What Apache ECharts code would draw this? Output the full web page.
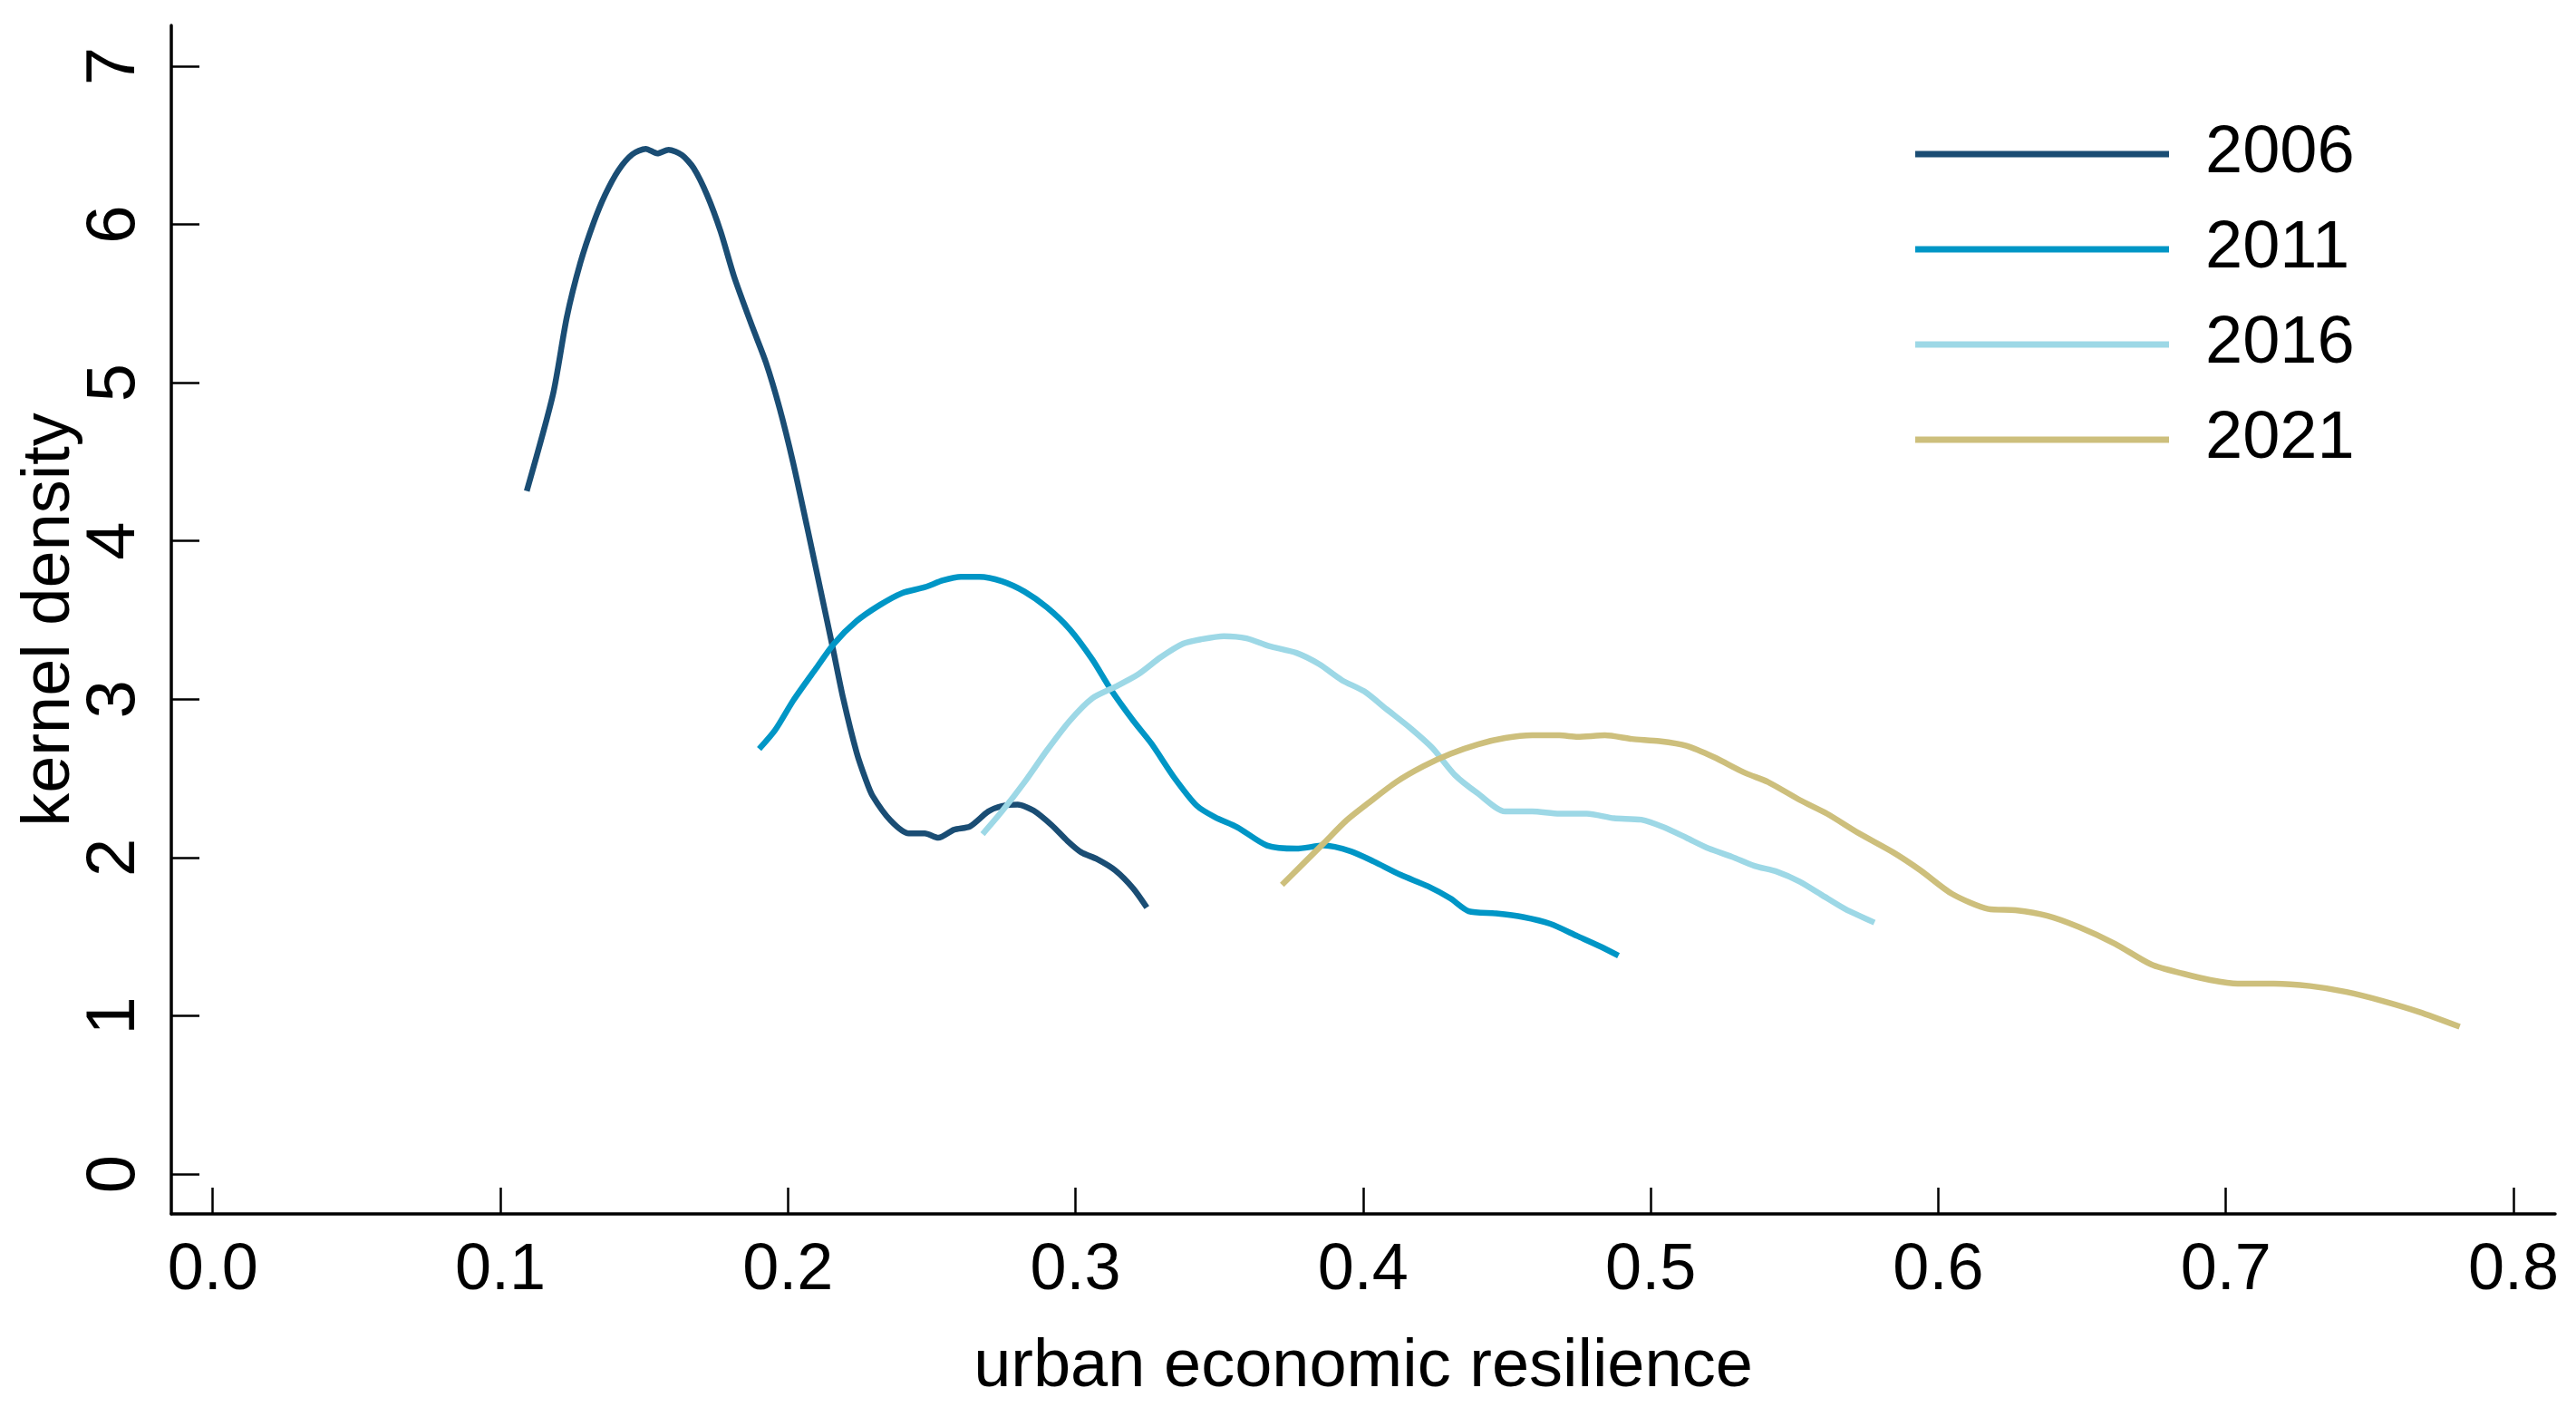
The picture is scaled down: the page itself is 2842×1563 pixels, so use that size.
<!DOCTYPE html>
<html>
<head>
<meta charset="utf-8">
<script src="https://cdn.jsdelivr.net/npm/echarts@6/dist/echarts.min.js"></script>
<style>
html,body{margin:0;padding:0;background:#fff;}
#chart{width:2842px;height:1563px;}
</style>
</head>
<body>
<div id="chart"></div>
<script>
// ---- data ----
const seriesNames = ['2006', '2011', '2016', '2021'];
const xTicks = [0, 0.1, 0.2, 0.3, 0.4, 0.5, 0.6, 0.7, 0.8];
const yTicks = [0, 1, 2, 3, 4, 5, 6, 7];

const x2006 = [0.1092,0.1183,0.1231,0.1278,0.1325,0.1364,0.1411,0.1459,0.1506,0.1546,0.1585,0.1632,0.1672,0.1719,0.1766,0.1813,0.1876,0.1924,0.1971,0.2018,0.2066,0.2113,0.2153,0.2192,0.2239,0.2271,0.2294,0.2357,0.2420,0.2476,0.2523,0.2578,0.2633,0.2697,0.2744,0.2799,0.2854,0.2917,0.2972,0.3020,0.3075,0.3138,0.3201,0.3248];
const y2006 = [4.316,4.925,5.412,5.756,6.014,6.186,6.343,6.443,6.478,6.449,6.472,6.438,6.357,6.186,5.956,5.670,5.355,5.126,4.840,4.496,4.095,3.694,3.351,3.007,2.663,2.491,2.391,2.234,2.153,2.153,2.125,2.176,2.196,2.291,2.325,2.334,2.297,2.205,2.105,2.033,1.990,1.919,1.804,1.684];

const x2011 = [0.1900,0.1956,0.2019,0.2097,0.2160,0.2239,0.2318,0.2397,0.2476,0.2539,0.2602,0.2665,0.2744,0.2823,0.2901,0.2980,0.3059,0.3122,0.3201,0.3264,0.3343,0.3422,0.3485,0.3563,0.3666,0.3768,0.3863,0.3958,0.4036,0.4131,0.4226,0.4304,0.4367,0.4462,0.4556,0.4651,0.4746,0.4825,0.4888];
const y2011 = [2.686,2.806,2.993,3.193,3.351,3.494,3.594,3.671,3.708,3.751,3.774,3.774,3.746,3.680,3.580,3.442,3.250,3.064,2.864,2.720,2.506,2.327,2.255,2.191,2.076,2.056,2.076,2.039,1.976,1.890,1.818,1.741,1.661,1.647,1.624,1.581,1.503,1.438,1.380];

const x2016 = [0.2677,0.2744,0.2823,0.2901,0.2980,0.3059,0.3138,0.3217,0.3296,0.3374,0.3437,0.3516,0.3595,0.3673,0.3768,0.3847,0.3926,0.4004,0.4083,0.4162,0.4241,0.4320,0.4399,0.4494,0.4588,0.4683,0.4778,0.4872,0.4967,0.5046,0.5124,0.5203,0.5282,0.5361,0.5440,0.5519,0.5597,0.5676,0.5778];
const y2016 = [2.148,2.291,2.477,2.678,2.864,3.007,3.078,3.156,3.265,3.351,3.379,3.399,3.385,3.336,3.293,3.222,3.121,3.050,2.935,2.821,2.692,2.520,2.405,2.291,2.291,2.277,2.277,2.248,2.239,2.191,2.125,2.056,2.005,1.947,1.910,1.847,1.761,1.675,1.589];

const x2021 = [0.3718,0.3784,0.3863,0.3942,0.4021,0.4115,0.4210,0.4304,0.4399,0.4494,0.4588,0.4683,0.4746,0.4841,0.4935,0.5030,0.5124,0.5219,0.5329,0.5408,0.5519,0.5613,0.5724,0.5843,0.5938,0.6048,0.6174,0.6269,0.6379,0.6489,0.6615,0.6742,0.6852,0.6946,0.7041,0.7167,0.7293,0.7419,0.7545,0.7671,0.7813];
const y2021 = [1.827,1.947,2.090,2.234,2.348,2.477,2.577,2.655,2.715,2.755,2.772,2.772,2.763,2.772,2.749,2.735,2.706,2.635,2.534,2.477,2.363,2.277,2.153,2.033,1.919,1.770,1.675,1.667,1.632,1.561,1.455,1.323,1.266,1.226,1.203,1.203,1.188,1.151,1.094,1.025,0.931];

const colors = ['#1a4d74', '#0096c6', '#9dd8e6', '#cdbf7c'];
const xs = [x2006, x2011, x2016, x2021];
const ys = [y2006, y2011, y2016, y2021];

const FONT = '"Liberation Sans", Arial, sans-serif';

const chart = echarts.init(document.getElementById('chart'), null, {renderer: 'canvas'});
const series = seriesNames.map((name, i) => ({
  name: name,
  type: 'line',
  data: xs[i].map((x, j) => [x, ys[i][j]]),
  showSymbol: false,
  smooth: 0.25,
  lineStyle: {color: colors[i], width: 6.5},
  itemStyle: {color: colors[i]},
  emphasis: {disabled: true},
  animation: false
}));

chart.setOption({
  animation: false,
  backgroundColor: '#ffffff',
  grid: {left: 189, right: 23, top: 28, bottom: 224, containLabel: false},
  legend: {
    data: seriesNames,
    orient: 'vertical',
    left: 2108,
    top: 128,
    icon: 'rect',
    itemWidth: 280,
    itemHeight: 7,
    itemGap: 31,
    textStyle: {fontFamily: FONT, fontSize: 74, lineHeight: 74, color: '#000', padding: [0, 0, 0, 35]}
  },
  xAxis: {
    type: 'value',
    min: -0.0144,
    max: 0.8145,
    name: 'urban economic resilience',
    nameLocation: 'middle',
    nameGap: 133,
    nameMoveOverlap: false,
    nameTextStyle: {fontFamily: FONT, fontSize: 74, color: '#000'},
    axisLine: {show: true, onZero: false, lineStyle: {color: '#000', width: 3.5}},
    axisTick: {show: true, inside: true, length: 29, customValues: xTicks, lineStyle: {color: '#000', width: 2.5}},
    axisLabel: {show: true, customValues: xTicks, margin: 27, fontFamily: FONT, fontSize: 72, color: '#000',
      formatter: v => v.toFixed(1)},
    splitLine: {show: false}
  },
  yAxis: {
    type: 'value',
    min: -0.252,
    max: 7.258,
    name: 'kernel density',
    nameLocation: 'middle',
    nameRotate: 90,
    nameGap: 96,
    nameMoveOverlap: false,
    nameTextStyle: {fontFamily: FONT, fontSize: 74, color: '#000'},
    axisLine: {show: true, onZero: false, lineStyle: {color: '#000', width: 3.5}},
    axisTick: {show: true, inside: true, length: 31, customValues: yTicks, lineStyle: {color: '#000', width: 2.5}},
    axisLabel: {show: true, customValues: yTicks, rotate: 90, margin: 24, fontFamily: FONT, fontSize: 76, color: '#000',
      formatter: v => String(v)},
    splitLine: {show: false}
  },
  series: series
});
</script>
</body>
</html>
